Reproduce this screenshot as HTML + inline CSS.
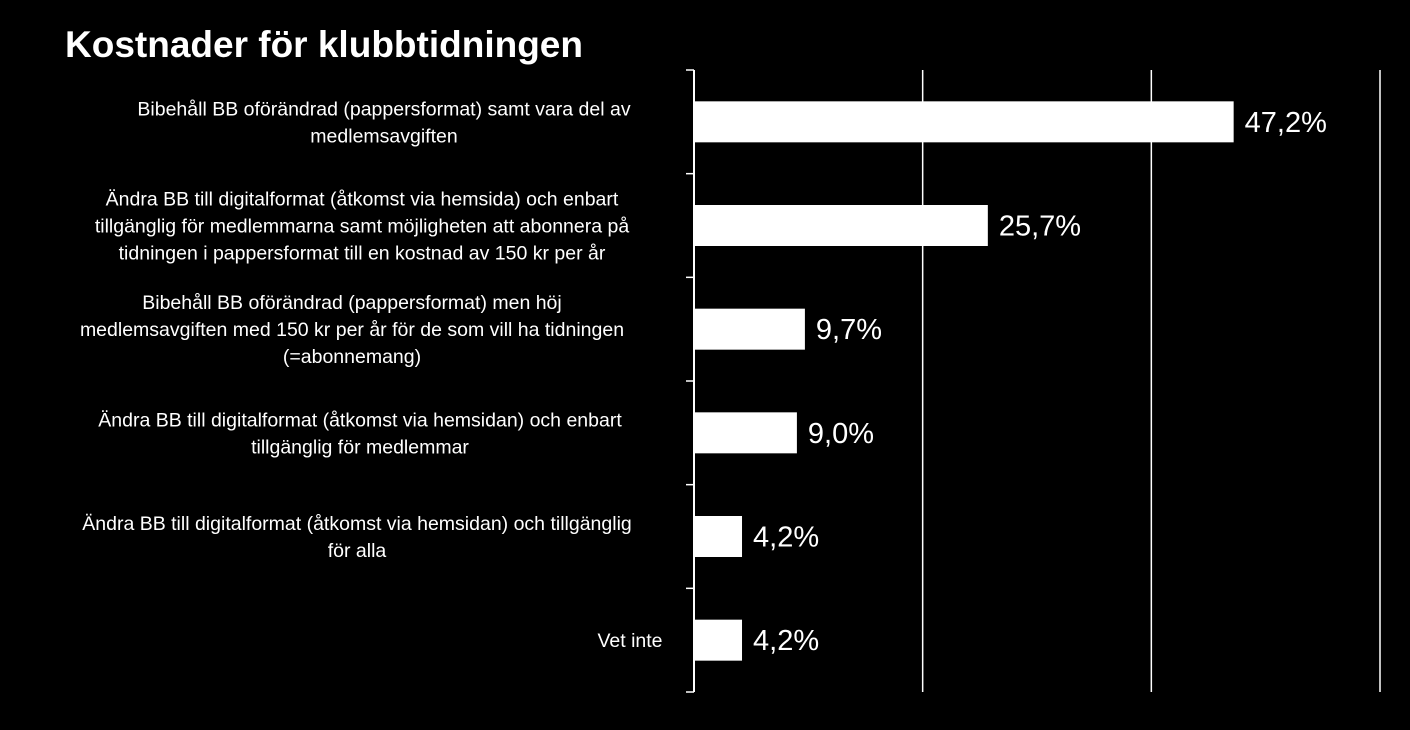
<!DOCTYPE html>
<html><head><meta charset="utf-8"><style>
body{margin:0;background:#000;width:1410px;height:725px;overflow:hidden}
svg text{font-family:"Liberation Sans","DejaVu Sans",sans-serif;fill:#fff}
</style></head><body>
<svg id="c" width="1410" height="725"></svg>
<script>
const categories=[
["Bibehåll BB oförändrad (pappersformat) samt vara del av","medlemsavgiften"],
["Ändra BB till digitalformat (åtkomst via hemsida) och enbart","tillgänglig för medlemmarna  samt möjligheten att abonnera på","tidningen i pappersformat till en kostnad av 150 kr per år"],
["Bibehåll BB oförändrad (pappersformat) men höj","medlemsavgiften med 150 kr per år för de som vill ha tidningen","(=abonnemang)"],
["Ändra BB till digitalformat (åtkomst via hemsidan) och enbart","tillgänglig för medlemmar"],
["Ändra BB till digitalformat (åtkomst via hemsidan) och tillgänglig","för alla"],
["Vet inte"]];
const values=[47.2,25.7,9.7,9.0,4.2,4.2];
const valueLabels=["47,2%","25,7%","9,7%","9,0%","4,2%","4,2%"];
const gridTicks=[20,40,60];
const NS="http://www.w3.org/2000/svg";
const svg=document.getElementById('c');
const x0=694,yTop=70,yBottom=692,xMax=60,xW=1380-694;
const xs=v=>x0+v/xMax*xW;
const band=(yBottom-yTop)/categories.length;
const labelCenters=[384,362,352,360,357,630];
function mk(t,a){const e=document.createElementNS(NS,t);for(const k in a)e.setAttribute(k,a[k]);svg.appendChild(e);return e;}
const title=mk('text',{x:65,y:57,'font-size':37,'font-weight':'bold'});
title.textContent="Kostnader för klubbtidningen";


gridTicks.forEach(g=>{const l=mk('line',{x1:xs(g),x2:xs(g),y1:yTop,y2:yBottom,stroke:'#fff','stroke-width':1.5});

});
const ax=mk('line',{x1:x0,x2:x0,y1:yTop,y2:yBottom,stroke:'#fff','stroke-width':2});


for(let i=0;i<=categories.length;i++){const y=yTop+i*band;const t=mk('line',{x1:686,x2:x0,y1:y,y2:y,stroke:'#fff','stroke-width':1.5});

}
categories.forEach((lines,i)=>{
const cy=yTop+band*(i+0.5);
const bh=41;
const r=mk('rect',{x:x0,y:cy-bh/2,width:xs(values[i])-x0,height:bh,fill:'#fff'});


const v=mk('text',{x:xs(values[i])+11,y:cy+10,'font-size':29});
v.textContent=valueLabels[i];


const lh=27;const n=lines.length;
const g=mk('text',{'font-size':19.5,'text-anchor':'middle'});


lines.forEach((s,j)=>{const ts=document.createElementNS(NS,'tspan');ts.setAttribute('x',labelCenters[i]);ts.setAttribute('y',cy+7+(j-(n-1)/2)*lh);ts.textContent=s;g.appendChild(ts);});
});
</script>
</body></html>
